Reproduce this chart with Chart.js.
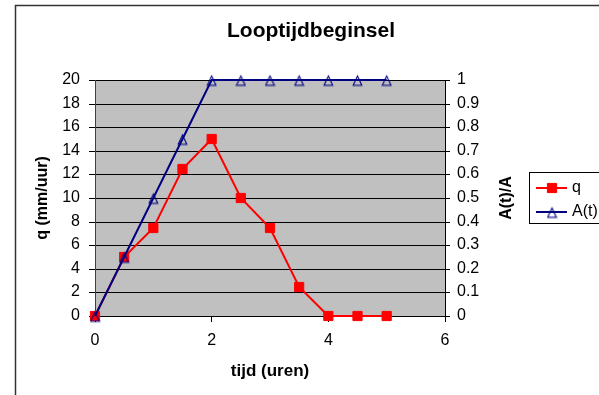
<!DOCTYPE html>
<html>
<head>
<meta charset="utf-8">
<title>Looptijdbeginsel</title>
<script src="https://cdn.jsdelivr.net/npm/chart.js@4/dist/chart.umd.min.js"></script>
<style>
  html, body { margin: 0; padding: 0; background: #fff; overflow: hidden; }
  #c { display: block; }
</style>
</head>
<body>
<canvas id="c" width="599" height="395"></canvas>
<script>
// Time since start of rainfall (hours)
const times = [0, 0.5, 1, 1.5, 2, 2.5, 3, 3.5, 4, 4.5, 5];
// Discharge q (mm/uur)
const qValues = [0, 5, 7.5, 12.5, 15, 10, 7.5, 2.5, 0, 0, 0];
// Contributing area fraction A(t)/A
const aValues = [0, 0.25, 0.5, 0.75, 1, 1, 1, 1, 1, 1, 1];

// Axis ticks
const xTickValues = [0, 2, 4, 6];
const qTickValues = [0, 2, 4, 6, 8, 10, 12, 14, 16, 18, 20];
const aTickValues = [0, 0.1, 0.2, 0.3, 0.4, 0.5, 0.6, 0.7, 0.8, 0.9, 1];
const aTickLabels = ['0', '0.1', '0.2', '0.3', '0.4', '0.5', '0.6', '0.7', '0.8', '0.9', '1'];

const FONT = "'Liberation Sans', Arial, sans-serif";
Chart.defaults.font.family = FONT;
Chart.defaults.color = '#000';

const RED = '#FF0000';
const NAVY = '#000080';

// Open triangle marker, slightly taller than wide
function makeTriangle(color) {
  const c = document.createElement('canvas');
  c.width = 11; c.height = 13;
  const g = c.getContext('2d');
  g.strokeStyle = color;
  g.lineWidth = 1.1;
  g.beginPath();
  g.moveTo(5.5, 2.5);
  g.lineTo(9.8, 11.8);
  g.lineTo(1.2, 11.8);
  g.closePath();
  g.stroke();
  return c;
}
const triangle = makeTriangle(NAVY);

// White page, grey plot area and outer chart frame
const framePlugin = {
  id: 'frame',
  beforeDraw(chart) {
    const { ctx, chartArea: a } = chart;
    ctx.save();
    ctx.fillStyle = '#fff';
    ctx.fillRect(0, 0, chart.width, chart.height);
    ctx.fillStyle = '#C0C0C0';
    ctx.fillRect(a.left, a.top, a.right - a.left, a.bottom - a.top);
    ctx.strokeStyle = '#333';
    ctx.lineWidth = 1.5;
    ctx.strokeRect(15.5, 5.5, chart.width + 40, chart.height + 40);
    ctx.restore();
  }
};

// Right axis title (reads bottom to top) and the boxed legend
const extrasPlugin = {
  id: 'extras',
  afterDraw(chart) {
    const { ctx, chartArea: a } = chart;
    ctx.save();
    ctx.fillStyle = '#000';
    ctx.font = 'bold 16px ' + FONT;
    ctx.textAlign = 'center';
    ctx.textBaseline = 'middle';
    ctx.translate(507, (a.top + a.bottom) / 2);
    ctx.rotate(-Math.PI / 2);
    ctx.fillText('A(t)/A', 0, 0);
    ctx.restore();

    ctx.save();
    ctx.fillStyle = '#fff';
    ctx.strokeStyle = '#000';
    ctx.lineWidth = 1;
    ctx.fillRect(529.5, 172.5, 120, 51);
    ctx.strokeRect(529.5, 172.5, 120, 51);
    const rows = [172.5 + 15.5, 172.5 + 39.5];
    chart.data.datasets.forEach((ds, i) => {
      const y = rows[i];
      ctx.strokeStyle = ds.borderColor;
      ctx.lineWidth = ds.borderWidth;
      ctx.beginPath();
      ctx.moveTo(536, y);
      ctx.lineTo(567, y);
      ctx.stroke();
      ctx.fillStyle = ds.pointBackgroundColor || 'rgba(0,0,0,0)';
      ctx.strokeStyle = ds.pointBorderColor || ds.borderColor;
      ctx.lineWidth = ds.pointBorderWidth || 1;
      Chart.helpers.drawPoint(ctx, {
        pointStyle: ds.pointStyle, radius: ds.pointRadius,
        borderWidth: ds.pointBorderWidth || 1, rotation: 0
      }, 552, y);
      ctx.fillStyle = '#000';
      ctx.font = '16px ' + FONT;
      ctx.textAlign = 'left';
      ctx.textBaseline = 'middle';
      ctx.fillText(ds.label, 572, y);
    });
    ctx.restore();
  }
};

new Chart(document.getElementById('c'), {
  type: 'scatter',
  data: {
    datasets: [
      {
        label: 'q',
        data: times.map((t, i) => ({ x: t, y: qValues[i] })),
        yAxisID: 'y',
        showLine: true,
        borderColor: RED,
        borderWidth: 2,
        pointStyle: 'rect',
        pointRadius: 6.5,
        pointBackgroundColor: RED,
        pointBorderColor: RED,
        pointBorderWidth: 1,
        order: 1,
        clip: false
      },
      {
        label: 'A(t)',
        data: times.map((t, i) => ({ x: t, y: aValues[i] })),
        yAxisID: 'y2',
        showLine: true,
        borderColor: NAVY,
        borderWidth: 2,
        pointStyle: triangle,
        pointRadius: 5,
        pointBackgroundColor: 'rgba(0,0,0,0)',
        pointBorderColor: NAVY,
        order: 0,
        clip: false
      }
    ]
  },
  options: {
    responsive: false,
    animation: false,
    devicePixelRatio: 1,
    layout: { padding: { left: 23, right: 0, top: 0, bottom: 0 } },
    plugins: {
      legend: { display: false },
      tooltip: { enabled: false },
      title: {
        display: true,
        text: 'Looptijdbeginsel',
        color: '#000',
        font: { size: 21, weight: 'bold' },
        padding: { top: 18.7, bottom: 36.1 }
      }
    },
    scales: {
      x: {
        type: 'linear',
        min: 0, max: 6,
        afterBuildTicks: s => { s.ticks = xTickValues.map(v => ({ value: v })); },
        afterFit: s => { s.height = 79; },
        grid: { drawOnChartArea: false, color: '#000', tickLength: 6 },
        border: { color: '#000', width: 1 },
        ticks: { color: '#000', font: { size: 16 }, padding: 8.5 },
        title: {
          display: true, text: 'tijd (uren)', color: '#000',
          font: { size: 17, weight: 'bold' }, padding: { top: 0, bottom: 13.5 }
        }
      },
      y: {
        position: 'left',
        min: 0, max: 20,
        alignToPixels: true,
        afterBuildTicks: s => { s.ticks = qTickValues.map(v => ({ value: v })); },
        afterFit: s => { s.width = 72; },
        grid: { color: '#000', tickLength: 6 },
        border: { color: '#404040', width: 1 },
        ticks: { color: '#000', font: { size: 16 }, padding: 9 },
        title: {
          display: true, text: 'q (mm/uur)', color: '#000',
          font: { size: 16, weight: 'bold' }, padding: { top: 10.4, bottom: 0 }
        }
      },
      y2: {
        position: 'right',
        min: 0, max: 1,
        alignToPixels: true,
        afterBuildTicks: s => { s.ticks = aTickValues.map(v => ({ value: v })); },
        afterFit: s => { s.width = 154; },
        grid: { drawOnChartArea: false, color: '#000', tickLength: 5 },
        border: { color: '#000', width: 1 },
        ticks: {
          color: '#000', font: { size: 16 }, padding: 7,
          callback: (v, i) => aTickLabels[i]
        }
      }
    }
  },
  plugins: [framePlugin, extrasPlugin]
});
</script>
</body>
</html>
